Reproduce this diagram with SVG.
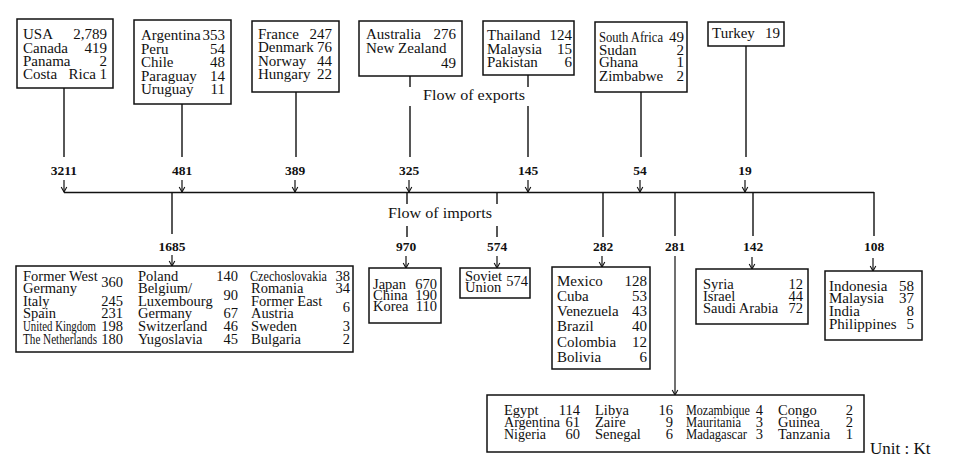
<svg xmlns="http://www.w3.org/2000/svg" width="953" height="474" viewBox="0 0 953 474">
<style>
text{font-family:"Liberation Serif","Times New Roman",serif;fill:#111}
.t{font-size:15px}
.s{font-size:14.5px}
.r{text-anchor:end}
.n{font-size:13.5px;font-weight:bold;text-anchor:middle}
.box{fill:#fff;stroke:#111;stroke-width:1.5}
.ln{stroke:#111;stroke-width:1.4;fill:none}
.ar{stroke:#111;stroke-width:1.2;fill:none;marker-end:url(#ah)}
</style>
<defs>
<marker id="ah" viewBox="-6 -4 7 8" refX="0" refY="0" markerWidth="7" markerHeight="8" markerUnits="userSpaceOnUse" orient="auto">
<path d="M-5,-2.8 L0,0 L-5,2.8" fill="none" stroke="#111" stroke-width="1.1"/>
</marker>
</defs>
<rect width="953" height="474" fill="#fff"/>

<g id="connectors">
<path class="ln" d="M64,88V157 M182,104V157 M296,92V157 M410,76V87 M410,106V157 M528,75V87 M528,106V157 M641,92V157 M746,46V157"/>
<path class="ar" d="M64,180V192"/><path class="ar" d="M182,180V192"/><path class="ar" d="M295,180V192"/><path class="ar" d="M409,180V192"/><path class="ar" d="M528,180V192"/><path class="ar" d="M640,180V192"/><path class="ar" d="M745,180V192"/>
<path class="ln" d="M64,192.5H874"/>
<path class="ln" d="M172,192V234 M407,192V204 M407,226V237 M497,192V204 M497,226V237 M603,192V237 M675,192V236 M753,192V236 M874,192V236"/>
<path class="ar" d="M172,255V266"/><path class="ar" d="M406,256V268"/><path class="ar" d="M497,256V268"/><path class="ar" d="M602,256V267"/><path class="ar" d="M675,256V395"/><path class="ar" d="M752,257V269"/><path class="ar" d="M873,258V271"/>
<text class="n" x="64" y="175">3211</text>
<text class="n" x="182" y="175">481</text>
<text class="n" x="295" y="175">389</text>
<text class="n" x="409" y="175">325</text>
<text class="n" x="528" y="175">145</text>
<text class="n" x="640" y="175">54</text>
<text class="n" x="745" y="175">19</text>
<text class="n" x="172" y="251">1685</text>
<text class="n" x="406" y="251">970</text>
<text class="n" x="497" y="251">574</text>
<text class="n" x="603" y="251">282</text>
<text class="n" x="675" y="251">281</text>
<text class="n" x="753" y="251">142</text>
<text class="n" x="874" y="251">108</text>
<text class="t" x="423" y="100" textLength="102" lengthAdjust="spacingAndGlyphs">Flow of exports</text>
<text class="t" x="388" y="218" textLength="104" lengthAdjust="spacingAndGlyphs">Flow of imports</text>
</g>

<g id="n-usa">
<rect class="box" x="17" y="19" width="96" height="69"/>
<text class="t" x="23" y="39">USA</text><text class="t r" x="107" y="39">2,789</text>
<text class="t" x="23" y="53">Canada</text><text class="t r" x="107" y="53">419</text>
<text class="t" x="23" y="66">Panama</text><text class="t r" x="107" y="66">2</text>
<text class="t" x="23" y="79">Costa</text><text class="t r" x="96" y="79">Rica</text><text class="t r" x="107" y="79">1</text>
</g>

<g id="n-argentina">
<rect class="box" x="134" y="20" width="97" height="84"/>
<text class="t" x="141" y="40">Argentina</text><text class="t r" x="225" y="40">353</text>
<text class="t" x="141" y="54">Peru</text><text class="t r" x="225" y="54">54</text>
<text class="t" x="141" y="67">Chile</text><text class="t r" x="225" y="67">48</text>
<text class="t" x="141" y="81">Paraguay</text><text class="t r" x="225" y="81">14</text>
<text class="t" x="141" y="94">Uruguay</text><text class="t r" x="225" y="94">11</text>
</g>

<g id="n-france">
<rect class="box" x="252" y="21" width="87" height="71"/>
<text class="t" x="258" y="39">France</text><text class="t r" x="332" y="39">247</text>
<text class="t" x="258" y="52">Denmark</text><text class="t r" x="332" y="52">76</text>
<text class="t" x="258" y="66">Norway</text><text class="t r" x="332" y="66">44</text>
<text class="t" x="258" y="79">Hungary</text><text class="t r" x="332" y="79">22</text>
</g>

<g id="n-australia">
<rect class="box" x="359" y="21" width="103" height="55"/>
<text class="t" x="366" y="39">Australia</text><text class="t r" x="456" y="39">276</text>
<text class="t" x="366" y="53">New Zealand</text>
<text class="t r" x="456" y="68">49</text>
</g>

<g id="n-thailand">
<rect class="box" x="483" y="21" width="91" height="54"/>
<text class="t" x="487" y="40">Thailand</text><text class="t r" x="572" y="40">124</text>
<text class="t" x="487" y="54">Malaysia</text><text class="t r" x="572" y="54">15</text>
<text class="t" x="487" y="67">Pakistan</text><text class="t r" x="572" y="67">6</text>
</g>

<g id="n-southafrica">
<rect class="box" x="595" y="22" width="92" height="70"/>
<text class="t" x="599" y="42" textLength="64" lengthAdjust="spacingAndGlyphs">South Africa</text><text class="t r" x="684" y="42">49</text>
<text class="t" x="599" y="55">Sudan</text><text class="t r" x="684" y="55">2</text>
<text class="t" x="599" y="67">Ghana</text><text class="t r" x="684" y="67">1</text>
<text class="t" x="599" y="81">Zimbabwe</text><text class="t r" x="684" y="81">2</text>
</g>

<g id="n-turkey">
<rect class="box" x="708" y="22" width="76" height="24"/>
<text class="t" x="712" y="38">Turkey</text><text class="t r" x="780" y="38">19</text>
</g>

<g id="n-europe">
<rect class="box" x="16" y="266" width="337" height="86"/>
<text class="s" x="23" y="281">Former West</text><text class="s r" x="123" y="287">360</text>
<text class="s" x="23" y="293">Germany</text>
<text class="s" x="23" y="306">Italy</text><text class="s r" x="123" y="306">245</text>
<text class="s" x="23" y="318">Spain</text><text class="s r" x="123" y="318">231</text>
<text class="s" x="23" y="331" textLength="73" lengthAdjust="spacingAndGlyphs">United Kingdom</text><text class="s r" x="123" y="331">198</text>
<text class="s" x="23" y="344" textLength="74" lengthAdjust="spacingAndGlyphs">The Netherlands</text><text class="s r" x="123" y="344">180</text>
<text class="s" x="138" y="281">Poland</text><text class="s r" x="238" y="281">140</text>
<text class="s" x="138" y="293">Belgium/</text><text class="s r" x="238" y="300">90</text>
<text class="s" x="138" y="306">Luxembourg</text>
<text class="s" x="138" y="318">Germany</text><text class="s r" x="238" y="318">67</text>
<text class="s" x="138" y="331">Switzerland</text><text class="s r" x="238" y="331">46</text>
<text class="s" x="138" y="344">Yugoslavia</text><text class="s r" x="238" y="344">45</text>
<text class="s" x="250" y="281" textLength="77" lengthAdjust="spacingAndGlyphs">Czechoslovakia</text><text class="s r" x="350" y="281">38</text>
<text class="s" x="251" y="293">Romania</text><text class="s r" x="350" y="293">34</text>
<text class="s" x="251" y="306">Former East</text><text class="s r" x="350" y="312">6</text>
<text class="s" x="251" y="318">Austria</text>
<text class="s" x="251" y="331">Sweden</text><text class="s r" x="350" y="331">3</text>
<text class="s" x="251" y="344">Bulgaria</text><text class="s r" x="350" y="344">2</text>
</g>

<g id="n-japan">
<rect class="box" x="369" y="268" width="72" height="55"/>
<text class="s" x="373" y="289">Japan</text><text class="s r" x="437" y="289">670</text>
<text class="s" x="373" y="300">China</text><text class="s r" x="437" y="300">190</text>
<text class="s" x="373" y="311">Korea</text><text class="s r" x="437" y="311">110</text>
</g>

<g id="n-soviet">
<rect class="box" x="460" y="268" width="70" height="30"/>
<text class="s" x="465" y="281">Soviet</text>
<text class="s" x="465" y="292">Union</text>
<text class="s r" x="528" y="286">574</text>
</g>

<g id="n-mexico">
<rect class="box" x="552" y="267" width="98" height="102"/>
<text class="t" x="557" y="286">Mexico</text><text class="t r" x="647" y="286">128</text>
<text class="t" x="557" y="301">Cuba</text><text class="t r" x="647" y="301">53</text>
<text class="t" x="557" y="316">Venezuela</text><text class="t r" x="647" y="316">43</text>
<text class="t" x="557" y="331">Brazil</text><text class="t r" x="647" y="331">40</text>
<text class="t" x="557" y="347">Colombia</text><text class="t r" x="647" y="347">12</text>
<text class="t" x="557" y="362">Bolivia</text><text class="t r" x="647" y="362">6</text>
</g>

<g id="n-syria">
<rect class="box" x="696" y="269" width="112" height="55"/>
<text class="s" x="703" y="289">Syria</text><text class="s r" x="803" y="289">12</text>
<text class="s" x="703" y="301">Israel</text><text class="s r" x="803" y="301">44</text>
<text class="s" x="703" y="313">Saudi  Arabia</text><text class="s r" x="803" y="313">72</text>
</g>

<g id="n-indonesia">
<rect class="box" x="825" y="271" width="97" height="69"/>
<text class="t" x="829" y="291">Indonesia</text><text class="t r" x="914" y="291">58</text>
<text class="t" x="829" y="303">Malaysia</text><text class="t r" x="914" y="303">37</text>
<text class="t" x="829" y="316">India</text><text class="t r" x="914" y="316">8</text>
<text class="t" x="829" y="329">Philippines</text><text class="t r" x="914" y="329">5</text>
</g>

<g id="n-africa">
<rect class="box" x="487" y="395" width="377" height="57"/>
<text class="s" x="504" y="415">Egypt</text><text class="s r" x="580" y="415">114</text>
<text class="s" x="504" y="427" textLength="56" lengthAdjust="spacingAndGlyphs">Argentina</text><text class="s r" x="580" y="427">61</text>
<text class="s" x="504" y="439" textLength="42" lengthAdjust="spacingAndGlyphs">Nigeria</text><text class="s r" x="580" y="439">60</text>
<text class="s" x="595" y="415">Libya</text><text class="s r" x="673" y="415">16</text>
<text class="s" x="595" y="427">Zaire</text><text class="s r" x="673" y="427">9</text>
<text class="s" x="595" y="439">Senegal</text><text class="s r" x="673" y="439">6</text>
<text class="s" x="686" y="415" textLength="64" lengthAdjust="spacingAndGlyphs">Mozambique</text><text class="s r" x="763" y="415">4</text>
<text class="s" x="686" y="427" textLength="55" lengthAdjust="spacingAndGlyphs">Mauritania</text><text class="s r" x="763" y="427">3</text>
<text class="s" x="686" y="439" textLength="61" lengthAdjust="spacingAndGlyphs">Madagascar</text><text class="s r" x="763" y="439">3</text>
<text class="s" x="778" y="415">Congo</text><text class="s r" x="853" y="415">2</text>
<text class="s" x="778" y="427">Guinea</text><text class="s r" x="853" y="427">2</text>
<text class="s" x="778" y="439">Tanzania</text><text class="s r" x="853" y="439">1</text>
</g>

<text x="870" y="454" style="font-size:17px">Unit : Kt</text>
</svg>
